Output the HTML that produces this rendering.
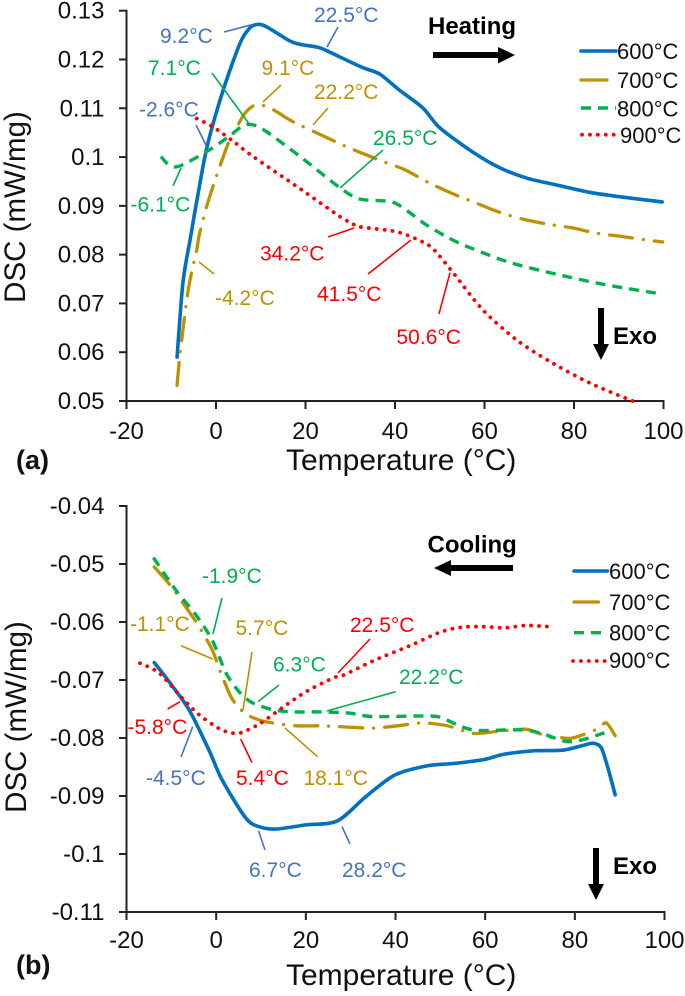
<!DOCTYPE html>
<html lang="en">
<head>
<meta charset="utf-8">
<title>DSC heating and cooling curves</title>
<style>
html,body{margin:0;padding:0;background:#fff}
svg{display:block;font-family:"Liberation Sans",Arial,sans-serif}
</style>
</head>
<body>
<svg id="chart" width="685" height="996" viewBox="0 0 685 996" xmlns="http://www.w3.org/2000/svg">
  <g id="panel-a"></g>
  <g id="panel-b"></g>

  <g font-size="21">
    <g stroke-width="1.6" fill="none">
      <path stroke="#4472C4" d="M224 32L252 24.7"/>
      <path stroke="#4472C4" d="M327 47L338 27"/>
      <path stroke="#4472C4" d="M196 125L206 145"/>
      <path stroke="#00B050" d="M212 73L250 125"/>
      <path stroke="#00B050" d="M173 186L181 168"/>
      <path stroke="#00B050" d="M340 188L383 150"/>
      <path stroke="#BF9000" d="M263 102L281 85"/>
      <path stroke="#BF9000" d="M313 125L328 108"/>
      <path stroke="#BF9000" d="M199 262L214 274"/>
      <path stroke="#FF0000" d="M328 237L354 228"/>
      <path stroke="#FF0000" d="M368 274L411 240"/>
      <path stroke="#FF0000" d="M439 314L450 272.7"/>
    </g>
    <text x="160" y="43" fill="#4472C4">9.2°C</text>
    <text x="314" y="22" fill="#4472C4">22.5°C</text>
    <text x="139" y="116.5" fill="#4472C4">-2.6°C</text>
    <text x="148" y="75" fill="#00B050">7.1°C</text>
    <text x="130.5" y="211.5" fill="#00B050">-6.1°C</text>
    <text x="373" y="145" fill="#00B050">26.5°C</text>
    <text x="261.5" y="75" fill="#BF9000">9.1°C</text>
    <text x="314" y="99" fill="#BF9000">22.2°C</text>
    <text x="215" y="305" fill="#BF9000">-4.2°C</text>
    <text x="260" y="260.5" fill="#FF0000">34.2°C</text>
    <text x="317" y="301" fill="#FF0000">41.5°C</text>
    <text x="396.5" y="344" fill="#FF0000">50.6°C</text>

    <text x="428" y="34" font-size="24" font-weight="bold" fill="#000">Heating</text>
    <path fill="#000" d="M433 52H498V47L515 55L498 63.5V58H433Z"/>
    <text x="613" y="344" font-size="24" font-weight="bold" fill="#000">Exo</text>
    <path fill="#000" d="M598 308H604V344H609L601 360L593 344H598Z"/>
    <text x="16" y="469" font-size="27" font-weight="bold" fill="#111">(a)</text>
  </g>

  <g font-size="21">
    <g stroke-width="1.6" fill="none">
      <path stroke="#00B050" d="M222 598L213 634"/>
      <path stroke="#00B050" d="M279 685L258 701.7"/>
      <path stroke="#00B050" d="M395.7 691.7L326.7 711"/>
      <path stroke="#BF9000" d="M181 645.7L212.7 659"/>
      <path stroke="#BF9000" d="M252 652L243 710"/>
      <path stroke="#BF9000" d="M285 728L317.5 756.7"/>
      <path stroke="#FF0000" d="M370 639L338 673"/>
      <path stroke="#FF0000" d="M167.7 709L180 701.7"/>
      <path stroke="#FF0000" d="M240.7 739L252 762.7"/>
      <path stroke="#4472C4" d="M192.7 726.7L181 757"/>
      <path stroke="#4472C4" d="M258.5 830.7L265 850"/>
      <path stroke="#4472C4" d="M342 826.7L350 844"/>
    </g>
    <text x="202" y="583" fill="#00B050">-1.9°C</text>
    <text x="273" y="671.5" fill="#00B050">6.3°C</text>
    <text x="399" y="684" fill="#00B050">22.2°C</text>
    <text x="130" y="631" fill="#BF9000">-1.1°C</text>
    <text x="235.5" y="635" fill="#BF9000">5.7°C</text>
    <text x="303.5" y="785" fill="#BF9000">18.1°C</text>
    <text x="350" y="632" fill="#FF0000">22.5°C</text>
    <text x="127.5" y="734" fill="#FF0000">-5.8°C</text>
    <text x="236" y="785" fill="#FF0000">5.4°C</text>
    <text x="146" y="785" fill="#4472C4">-4.5°C</text>
    <text x="249" y="877" fill="#4472C4">6.7°C</text>
    <text x="342" y="877" fill="#4472C4">28.2°C</text>

    <text x="427.5" y="552.5" font-size="24" font-weight="bold" fill="#000">Cooling</text>
    <path fill="#000" d="M513 565H451V560L434 568L451 576V571H513Z"/>
    <text x="613" y="874" font-size="24" font-weight="bold" fill="#000">Exo</text>
    <path fill="#000" d="M593 848H599V884H604L596 900L588 884H593Z"/>
    <text x="16" y="974" font-size="27" font-weight="bold" fill="#111">(b)</text>
  </g>
</svg>

<script>
// Tick labels
const xTicks = [-20, 0, 20, 40, 60, 80, 100];
const aYTicks = [0.05, 0.06, 0.07, 0.08, 0.09, 0.1, 0.11, 0.12, 0.13];
const bYTicks = [-0.11, -0.1, -0.09, -0.08, -0.07, -0.06, -0.05, -0.04];
const seriesNames = ['600°C', '700°C', '800°C', '900°C'];

// Panel (a) heating
const aT600 = [-8.7,-7.4,-5.8,-4.25,-2,1.6,5.4,7.6,9.4,11.3,16.5,18.8,23.2,27.7,32.9,36.6,41,46.2,50,57.4,63.4,69.4,76,83.3,90.8,99.7];
const aD600 = [0.059,0.0742,0.083,0.0912,0.1021,0.1137,0.1234,0.1265,0.1272,0.1267,0.1238,0.1231,0.1224,0.1205,0.1183,0.117,0.1137,0.1101,0.106,0.101,0.0978,0.0957,0.0943,0.0928,0.0918,0.0908];
const aT700 = [-8.7,-8,-6.2,-4.3,-3.8,-2.1,-0.2,2.6,3.9,6.5,8.9,12,16.5,19.1,26.6,29.2,32.1,37,42.2,47.4,52.6,57.8,63,68.5,73.8,79.5,85,90.9,96.2,99.8];
const aD700 = [0.0532,0.0599,0.0728,0.081,0.0838,0.0898,0.0953,0.1025,0.1049,0.109,0.1107,0.1101,0.1076,0.1064,0.1032,0.1021,0.101,0.0992,0.0974,0.0948,0.0926,0.0907,0.0888,0.0873,0.0863,0.0855,0.0844,0.0837,0.083,0.0826];
const aT800 = [-12.3,-10.3,-8,-2.1,2.4,6,8.3,11.3,18.8,27.7,32.1,38.8,41.8,47,52.9,57.4,65.6,76,87.2,99.8];
const aD800 = [0.1001,0.0982,0.0982,0.1011,0.1039,0.1064,0.1066,0.1052,0.1001,0.0937,0.0914,0.0909,0.0896,0.0861,0.083,0.0812,0.0784,0.076,0.0738,0.0719];
const aT900 = [-4.3,-0.7,3.9,8.3,18.8,27.7,30.3,32.1,40.3,45.5,48.5,52.9,59.6,67.2,74.6,83.5,93.1];
const aD900 = [0.1079,0.1062,0.1032,0.1001,0.0935,0.0878,0.0865,0.0857,0.0847,0.0829,0.0812,0.0764,0.0687,0.0625,0.0581,0.0537,0.05];

// Panel (b) cooling
const bT600 = [-13.8,-10.5,-6,-1.6,1.3,6.6,9.6,13.4,19.8,27,33.4,39.8,47,52.9,59.8,64.2,71,77.3,82.2,84.1,85.9,87.5,89];
const bD600 = [-0.067,-0.0703,-0.0752,-0.0821,-0.0872,-0.0938,-0.0953,-0.0957,-0.095,-0.0943,-0.0901,-0.0864,-0.0848,-0.0844,-0.0837,-0.0828,-0.0822,-0.0821,-0.0812,-0.0809,-0.0817,-0.0855,-0.0898];
const bT700 = [-13.8,-10.1,-6.8,-3.8,-0.9,1,3.3,5.1,6.9,9.6,12.5,17.8,23.4,29,34.9,40.4,46,51.6,57.2,62.4,69.2,73.9,76.6,79.5,84.9,87,89];
const bD700 = [-0.0505,-0.0538,-0.0574,-0.0608,-0.0648,-0.0687,-0.0729,-0.0748,-0.076,-0.0769,-0.0774,-0.0779,-0.0779,-0.0781,-0.0783,-0.0779,-0.0774,-0.0779,-0.0792,-0.0789,-0.0785,-0.0798,-0.0799,-0.08,-0.0785,-0.0774,-0.0796];
const bT800 = [-14,-9,-4.5,-0.9,2.2,5.1,8,12.5,17,23,29.7,34.9,47.5,50.5,54.9,58.7,68.4,72.9,78,81.7,86.6];
const bD800 = [-0.0489,-0.0545,-0.0588,-0.0631,-0.0688,-0.072,-0.0739,-0.0751,-0.0755,-0.0755,-0.0757,-0.0763,-0.0762,-0.0766,-0.0781,-0.0787,-0.0786,-0.0793,-0.0806,-0.0803,-0.0791];
const bT900 = [-17,-12.7,-7.6,-3.8,0.7,3.3,5.5,9.6,14.7,20.3,26.3,28.6,35.3,43.5,49.8,54.6,59.4,64.3,69.1,74.1];
const bD900 = [-0.0671,-0.0688,-0.0731,-0.076,-0.0784,-0.0791,-0.0791,-0.0776,-0.0748,-0.0719,-0.0696,-0.0691,-0.0666,-0.064,-0.0618,-0.0609,-0.0608,-0.061,-0.0606,-0.0608];

const NS = 'http://www.w3.org/2000/svg';
const strokeStyles = [
  {color:'#0070C0', width:3.6, dash:'none', cap:'round'},
  {color:'#BF9000', width:3.3, dash:'23 11 0.1 11', cap:'round'},
  {color:'#00B050', width:3.4, dash:'10 7', cap:'butt'},
  {color:'#FF0000', width:3.8, dash:'0.1 7.8', cap:'round'}
];

function node(parent, tag, attrs, text) {
  const el = document.createElementNS(NS, tag);
  for (const k in attrs) el.setAttribute(k, attrs[k]);
  if (text !== undefined) el.textContent = text;
  parent.appendChild(el);
  return el;
}

function smoothPath(px, py) {
  let d = 'M' + px[0].toFixed(2) + ' ' + py[0].toFixed(2);
  for (let i = 0; i < px.length - 1; i++) {
    const p0 = Math.max(i - 1, 0), p3 = Math.min(i + 2, px.length - 1);
    const k = 0.14;
    const c1x = px[i] + (px[i + 1] - px[p0]) * k;
    const c1y = py[i] + (py[i + 1] - py[p0]) * k;
    const c2x = px[i + 1] - (px[p3] - px[i]) * k;
    const c2y = py[i + 1] - (py[p3] - py[i]) * k;
    d += 'C' + c1x.toFixed(2) + ' ' + c1y.toFixed(2) + ' ' + c2x.toFixed(2) + ' ' + c2y.toFixed(2) + ' ' + px[i + 1].toFixed(2) + ' ' + py[i + 1].toFixed(2);
  }
  return d;
}

function drawPanel(root, cfg) {
  const xScale = t => cfg.x0 + (t + 20) * (cfg.x1 - cfg.x0) / 120;
  const yMin = cfg.yTicks[0], yMax = cfg.yTicks[cfg.yTicks.length - 1];
  const yScale = v => cfg.yBottom + (v - yMin) * (cfg.yTop - cfg.yBottom) / (yMax - yMin);

  const axisColor = '#222';
  const yAxis = node(root, 'line', {x1:cfg.x0, x2:cfg.x0, y1:cfg.yTop - 1, y2:cfg.yBottom + 1, stroke:axisColor, 'stroke-width':2});
  
  
  const xAxis = node(root, 'line', {x1:cfg.x0, x2:cfg.x1 + 1, y1:cfg.yBottom, y2:cfg.yBottom, stroke:axisColor, 'stroke-width':2});
  
  

  cfg.yTicks.forEach(v => {
    const y = yScale(v);
    const tick = node(root, 'line', {x1:cfg.x0 - 7.5, x2:cfg.x0, y1:y, y2:y, stroke:axisColor, 'stroke-width':2});
    
    
    const label = node(root, 'text', {x:104.5, y:y + 8, 'text-anchor':'end', 'font-size':24, fill:'#111'}, String(v));
    
    
  });

  xTicks.forEach(t => {
    const x = xScale(t);
    const tick = node(root, 'line', {x1:x, x2:x, y1:cfg.yBottom, y2:cfg.yBottom + 8, stroke:axisColor, 'stroke-width':2});
    
    
    const label = node(root, 'text', {x:x, y:cfg.xLabelY, 'text-anchor':'middle', 'font-size':24, fill:'#111'}, String(t));
    
    
  });

  const xTitle = node(root, 'text', {x:cfg.xTitleX, y:cfg.xTitleY, 'font-size':30, fill:'#111'}, 'Temperature (°C)');
  
  
  const yTitle = node(root, 'text', {transform:'translate(' + cfg.yTitleX + ' ' + cfg.yTitleY + ') rotate(-90)', 'text-anchor':'middle', 'font-size':29.5, fill:'#111'}, 'DSC (mW/mg)');
  
  

  cfg.series.forEach((s, i) => {
    const st = strokeStyles[i];
    const px = s.t.map(xScale), py = s.d.map(yScale);
    const path = node(root, 'path', {d:smoothPath(px, py), fill:'none', stroke:st.color, 'stroke-width':st.width, 'stroke-dasharray':st.dash, 'stroke-linecap':st.cap, 'stroke-linejoin':'round'});
    
    

    const leg = cfg.legend[i];
    const lx2 = i === 1 ? leg.x2 - 9 : leg.x2;
    const key = node(root, 'line', {x1:leg.x1, x2:lx2, y1:leg.y, y2:leg.y, stroke:st.color, 'stroke-width':st.width, 'stroke-dasharray':i === 1 ? 'none' : st.dash, 'stroke-linecap':st.cap});
    
    
    const text = node(root, 'text', {x:leg.tx, y:leg.ty, 'font-size':22, fill:'#111'}, seriesNames[i]);
    
    
  });
}

drawPanel(document.getElementById('panel-a'), {
  id:'panel-a', x0:126.5, x1:663.5, yTop:10.7, yBottom:401, yTicks:aYTicks,
  xLabelY:439, xTitleX:286, xTitleY:470, yTitleX:25, yTitleY:207,
  series:[{t:aT600,d:aD600},{t:aT700,d:aD700},{t:aT800,d:aD800},{t:aT900,d:aD900}],
  legend:[
    {x1:581,x2:616,y:51,tx:617,ty:59},
    {x1:581,x2:616,y:80,tx:617,ty:88},
    {x1:581,x2:616,y:108,tx:617,ty:116.5},
    {x1:582,x2:616,y:134.7,tx:620,ty:143}
  ]
});
drawPanel(document.getElementById('panel-b'), {
  id:'panel-b', x0:126.5, x1:664.5, yTop:506, yBottom:912, yTicks:bYTicks,
  xLabelY:948, xTitleX:286, xTitleY:985, yTitleX:26, yTitleY:717,
  series:[{t:bT600,d:bD600},{t:bT700,d:bD700},{t:bT800,d:bD800},{t:bT900,d:bD900}],
  legend:[
    {x1:574,x2:607.5,y:571,tx:609,ty:579},
    {x1:574,x2:607.5,y:602,tx:609,ty:610},
    {x1:574,x2:607.5,y:632.7,tx:609,ty:640.5},
    {x1:573,x2:607.5,y:661,tx:609,ty:668}
  ]
});
</script>
</body>
</html>
